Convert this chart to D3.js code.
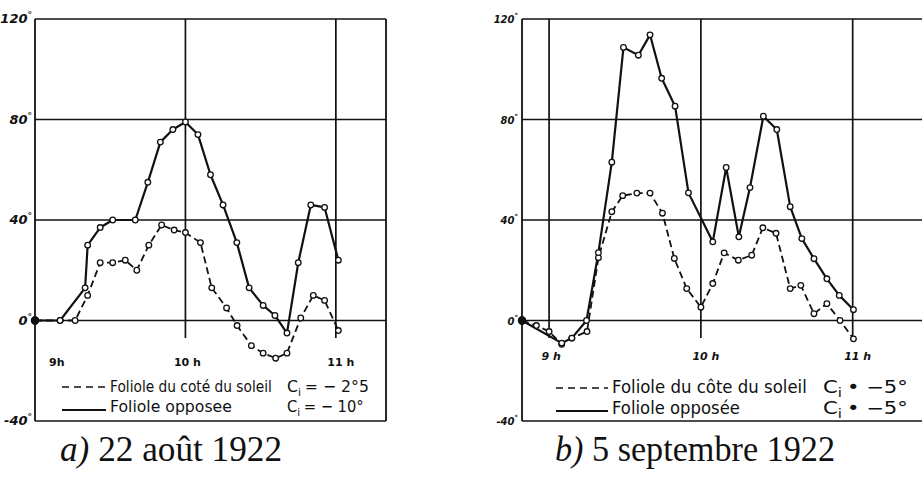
<!DOCTYPE html>
<html>
<head>
<meta charset="utf-8">
<script src="https://cdn.jsdelivr.net/npm/d3@7"></script>
<style>
body { margin: 0; background: #fff; }
svg { display: block; }
</style>
</head>
<body>
<svg id="chart" width="922" height="477"></svg>
<script>
// degrees, minutes after 9 h
var yTicks = [120, 80, 40, 0, -40];
var hours = [0, 60, 120];

var hourLabelsA = ["9h", "10 h", "11 h"];
var hourLabelsB = ["9 h", "10 h", "11 h"];

// a) 22 aout 1922
var leftSolidT = [0, 10, 20, 21, 26, 31, 40, 45, 50, 55, 60, 65, 70, 75, 80.5, 85.4, 91, 95.7, 100.5, 105, 110, 115.5, 121];
var leftSolidV = [0, 0, 13, 30, 37, 40, 40, 55, 71, 76, 79, 74, 58, 46, 31, 13, 6, 2, -5, 23, 46, 45, 24];
var leftDashT = [0, 10, 16, 21, 26, 31, 36, 40.6, 45.4, 50.5, 55.5, 60, 66, 70.5, 76.4, 80.6, 86.3, 91, 96, 100.5, 106, 111, 115.5, 121];
var leftDashV = [0, 0, 0, 10, 23, 23, 24, 20, 30, 38, 36, 35, 31, 13, 5, -2, -10, -13, -15, -13, 1, 10, 8, -4];

// b) 5 septembre 1922
var rightSolidT = [-10.7, 5, 9, 14.8, 19.5, 24.8, 29.4, 35.3, 39.9, 44.5, 49.8, 55.1, 64.7, 70, 75, 79.4, 84.7, 90, 95.3, 99.9, 104.7, 109.8, 114.7, 120.3];
var rightSolidV = [0, -9, -7, 0, 27, 63, 108.7, 105.6, 113.7, 96.4, 85.3, 50.8, 31.3, 60.9, 33.3, 52.9, 81.3, 76, 45.3, 32.6, 24.6, 16.6, 10, 4.3];
var rightDashT = [-10.7, -5, 0, 5, 9, 15, 19.5, 24.8, 29.1, 34.7, 39.9, 44.8, 49.5, 54.4, 60, 64.7, 69.2, 74.8, 80.1, 84.5, 89.7, 95.3, 99.5, 104.7, 109.8, 115, 120.3];
var rightDashV = [0, -2, -4.4, -9.5, -7, -4.4, 25, 43.3, 49.7, 50.7, 50.7, 42.7, 24.7, 12.7, 5.3, 14.7, 26.9, 24, 26, 36.9, 34.7, 12.7, 14, 2.7, 6.7, 0, -7.3];

var legendA = ["Foliole du coté du soleil", "Foliole opposee"];
var legendB = ["Foliole du côte du soleil", "Foliole opposée"];
var ciA = ["= \u2212 2\u00b05", "= \u2212 10\u00b0"];
var ciB = ["\u2022 \u22125\u00b0", "\u2022 \u22125\u00b0"];

var svg = d3.select('#chart');

var zip = (t, v) => t.map((d, i) => [d, v[i]]);

var panels = [
    {
        xDomain: [0, 140], xRange: [35, 386], rightFrame: true,
        solid: zip(leftSolidT, leftSolidV), dash: zip(leftDashT, leftDashV),
        hourLabels: hourLabelsA, hourDx: [14, 2, 5], hourY: 366, hourFont: 'bold 11px "DejaVu Sans"',
        tickFont: 'italic bold 13px "DejaVu Sans"', tickX: 32, degSize: 9,
        legend: legendA, ci: ciA,
        lg: { x0: 62, x1: 106, tx: 110, cx: 287, ys: [387, 410], tys: [392, 412], size: 16, lens: [162, 122], cilens: [78, 73] },
        title: "22 ao\u00fbt 1922", titlePre: "a)", titleX: 60, titleLen: 222
    },
    {
        xDomain: [-10.7, 150], xRange: [522, 928.6], rightFrame: false,
        solid: zip(rightSolidT, rightSolidV), dash: zip(rightDashT, rightDashV),
        hourLabels: hourLabelsB, hourDx: [2, 5, 5], hourY: 360, hourFont: 'italic bold 11px "DejaVu Sans"',
        tickFont: 'italic bold 10px "DejaVu Sans"', tickX: 518, degSize: 7,
        legend: legendB, ci: ciB,
        lg: { x0: 556, x1: 608, tx: 612, cx: 823, ys: [388, 411], tys: [393, 414], size: 17, lens: [195, 128], cilens: [80, 80] },
        title: "5 septembre 1922", titlePre: "b)", titleX: 555, titleLen: 280
    }
];

panels.forEach(drawPanel);

// squeeze a text horizontally to a given width
function fitWidth(sel, x, y, len) {
    var w = sel.node().getComputedTextLength();
    sel.attr('transform', `translate(${x} ${y}) scale(${len / w} 1)`);
}

function drawPanel(p) {
    var g = svg.append('g');

    var x = d3.scaleLinear().domain(p.xDomain).range(p.xRange);
    var y = d3.scaleLinear().domain([-40, 120]).range([421, 19]);

    var x0 = x(p.xDomain[0]), x1 = x(p.xDomain[1]);

    // horizontal grid + frame top/bottom
    g.selectAll('.hgrid')
        .data(yTicks)
        .enter().append('line')
        .attr('x1', x0).attr('x2', x1)
        .attr('y1', d => y(d)).attr('y2', d => y(d))
        .attr('stroke', '#111').attr('stroke-width', 1.7);

    // frame sides
    g.append('line')
        .attr('x1', x0).attr('x2', x0)
        .attr('y1', y(120)).attr('y2', y(-40))
        .attr('stroke', '#111').attr('stroke-width', 1.8);
    if (p.rightFrame) {
        g.append('line')
            .attr('x1', x1).attr('x2', x1)
            .attr('y1', y(120)).attr('y2', y(-40))
            .attr('stroke', '#111').attr('stroke-width', 1.8);
    }

    // hour lines
    g.selectAll('.vgrid')
        .data(hours.filter(h => Math.abs(x(h) - x0) > 2))
        .enter().append('line')
        .attr('x1', d => x(d)).attr('x2', d => x(d))
        .attr('y1', y(120)).attr('y2', y(-7))
        .attr('stroke', '#111').attr('stroke-width', 1.7);

    // tick labels
    var tl = g.selectAll('.tick')
        .data(yTicks)
        .enter().append('text')
        .attr('x', p.tickX).attr('y', d => y(d) + 4)
        .attr('text-anchor', 'end')
        .style('font', p.tickFont)
        .attr('fill', '#111');
    tl.append('tspan').text(d => d);
    tl.append('tspan').attr('dy', -5).style('font-size', p.degSize + 'px').text('\u00b0');

    // hour labels
    g.selectAll('.hour')
        .data(hours)
        .enter().append('text')
        .attr('x', (d, i) => x(d) + p.hourDx[i])
        .attr('y', p.hourY)
        .attr('text-anchor', (d, i) => Math.abs(x(d) - x0) < 2 ? 'start' : 'middle')
        .style('font', p.hourFont)
        .attr('fill', '#111')
        .text((d, i) => p.hourLabels[i]);

    var line = d3.line().x(d => x(d[0])).y(d => y(d[1]));

    g.append('path')
        .datum(p.dash)
        .attr('d', line)
        .attr('fill', 'none').attr('stroke', '#111')
        .attr('stroke-width', 1.8).attr('stroke-dasharray', '7,4');

    g.append('path')
        .datum(p.solid)
        .attr('d', line)
        .attr('fill', 'none').attr('stroke', '#111')
        .attr('stroke-width', 2.2).attr('stroke-linejoin', 'round');

    [p.dash, p.solid].forEach(series => {
        g.selectAll(null)
            .data(series)
            .enter().append('circle')
            .attr('cx', d => x(d[0])).attr('cy', d => y(d[1]))
            .attr('r', (d, i) => i == 0 ? 3.5 : 2.8)
            .attr('fill', (d, i) => i == 0 ? '#111' : '#fff')
            .attr('stroke', '#111').attr('stroke-width', 1.3);
    });

    // legend
    var lg = p.lg;
    g.append('line')
        .attr('x1', lg.x0).attr('x2', lg.x1)
        .attr('y1', lg.ys[0]).attr('y2', lg.ys[0])
        .attr('stroke', '#111').attr('stroke-width', 1.6)
        .attr('stroke-dasharray', '7,5');
    g.append('line')
        .attr('x1', lg.x0).attr('x2', lg.x1)
        .attr('y1', lg.ys[1]).attr('y2', lg.ys[1])
        .attr('stroke', '#111').attr('stroke-width', 1.8);

    p.legend.forEach((name, i) => {
        var nt = g.append('text')
            .style('font', lg.size + 'px "DejaVu Sans"')
            .attr('fill', '#111')
            .text(name);
        fitWidth(nt, lg.tx, lg.tys[i], lg.lens[i]);

        var ct = g.append('text')
            .style('font', lg.size + 'px "DejaVu Sans"')
            .attr('fill', '#111');
        ct.append('tspan').text('C');
        ct.append('tspan').attr('dy', 4).style('font-size', (lg.size - 5) + 'px').text('i');
        ct.append('tspan').attr('dy', -4).attr('dx', 4).text(p.ci[i]);
        fitWidth(ct, lg.cx, lg.tys[i], lg.cilens[i]);
    });

    // title
    var t = svg.append('text')
        .attr('x', p.titleX).attr('y', 461)
        .attr('textLength', p.titleLen).attr('lengthAdjust', 'spacingAndGlyphs')
        .style('font', '36px "Liberation Serif"')
        .attr('fill', '#111');
    t.append('tspan').style('font-style', 'italic').text(p.titlePre + ' ');
    t.append('tspan').text(p.title);
}
</script>
</body>
</html>
